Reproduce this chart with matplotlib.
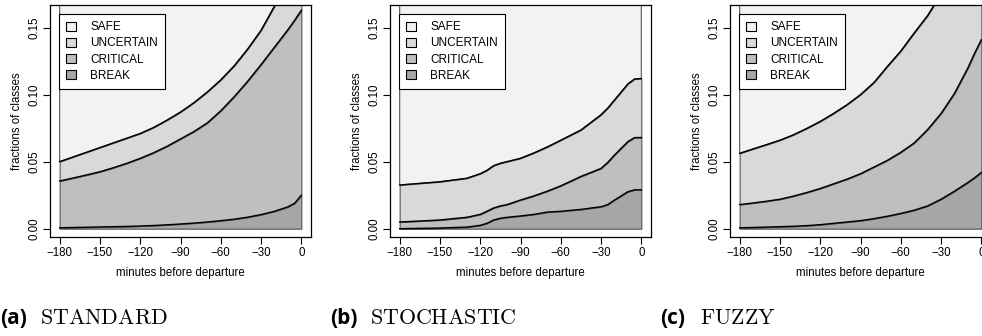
"""
Stacked class fractions before departure for three models (STANDARD, STOCHASTIC, FUZZY).
"""
import matplotlib
matplotlib.use("Agg")
import matplotlib.pyplot as plt
from matplotlib.patches import Patch

plt.rcParams['font.family'] = ['Liberation Sans', 'DejaVu Sans']
plt.rcParams['mathtext.fontset'] = 'cm'

# Class names and fill colours (bottom to top)
CLASSES = ['BREAK', 'CRITICAL', 'UNCERTAIN', 'SAFE']
COLORS = ['#a6a6a6', '#bfbfbf', '#d9d9d9', '#f2f2f2']

X_TICKS = [-180, -150, -120, -90, -60, -30, 0]
Y_TICKS = [0.0, 0.05, 0.10, 0.15]
Y_TICK_LABELS = ['0.00', '0.05', '0.10', '0.15']

# (a) STANDARD - cumulative upper boundary of each class
x_std = [-180, -170, -160, -150, -140, -130, -120, -110, -100, -90, -80, -70,
         -60, -50, -40, -30, -20, -10, -5, 0]
break_std = [0.0007, 0.0009, 0.0011, 0.0013, 0.0015, 0.0017, 0.002, 0.0024,
             0.0029, 0.0035, 0.0042, 0.005, 0.006, 0.0071, 0.0086, 0.0105,
             0.013, 0.0163, 0.019, 0.025]
critical_std = [0.0356, 0.0378, 0.0401, 0.0425, 0.0455, 0.0488, 0.0525, 0.0567,
                0.0615, 0.067, 0.0725, 0.079, 0.088, 0.0985, 0.110, 0.1225,
                0.1355, 0.1485, 0.1555, 0.163]
uncertain_std = [0.050, 0.0535, 0.057, 0.0605, 0.064, 0.0675, 0.071, 0.0755,
                 0.081, 0.087, 0.094, 0.102, 0.111, 0.1215, 0.134, 0.148,
                 0.166, 0.185, 0.198, 0.212]

# (b) STOCHASTIC
x_sto = [-180, -150, -130, -120, -115, -110, -105, -100, -90, -80, -70, -60,
         -45, -30, -25, -20, -15, -10, -5, 0]
break_sto = [0.0, 0.0005, 0.0012, 0.0025, 0.004, 0.0065, 0.0078, 0.0085,
             0.0095, 0.0107, 0.0124, 0.013, 0.0144, 0.0164, 0.018, 0.0214,
             0.0245, 0.0276, 0.029, 0.029]
critical_sto = [0.005, 0.0065, 0.0085, 0.0107, 0.013, 0.0155, 0.017, 0.018,
                0.0214, 0.0245, 0.028, 0.032, 0.039, 0.045, 0.0495, 0.055,
                0.060, 0.065, 0.068, 0.068]
uncertain_sto = [0.0326, 0.035, 0.0376, 0.041, 0.0435, 0.047, 0.0488, 0.050,
                 0.0525, 0.0565, 0.061, 0.066, 0.0736, 0.085, 0.090, 0.096,
                 0.102, 0.108, 0.1117, 0.112]

# (c) FUZZY
x_fuz = [-180, -170, -160, -150, -140, -130, -120, -110, -100, -90, -80, -70,
         -60, -50, -40, -30, -20, -10, -5, 0]
break_fuz = [0.0007, 0.0009, 0.0012, 0.0015, 0.0018, 0.0023, 0.003, 0.004,
             0.005, 0.006, 0.0075, 0.0093, 0.0114, 0.0138, 0.017, 0.022,
             0.028, 0.0345, 0.038, 0.042]
critical_fuz = [0.018, 0.0192, 0.0205, 0.022, 0.0243, 0.027, 0.030, 0.0335,
                0.037, 0.041, 0.046, 0.051, 0.057, 0.064, 0.074, 0.086,
                0.101, 0.12, 0.131, 0.141]
uncertain_fuz = [0.0562, 0.0595, 0.0627, 0.066, 0.070, 0.0748, 0.080, 0.086,
                 0.0925, 0.100, 0.109, 0.121, 0.1325, 0.146, 0.159, 0.175,
                 0.195, 0.22, 0.235, 0.25]

PANELS = [
    ('(a)', 'STANDARD', x_std, [break_std, critical_std, uncertain_std]),
    ('(b)', 'STOCHASTIC', x_sto, [break_sto, critical_sto, uncertain_sto]),
    ('(c)', 'FUZZY', x_fuz, [break_fuz, critical_fuz, uncertain_fuz]),
]

AX_LEFTS = [50, 390, 730]   # pixels
CAPTION_LEFTS = [0, 330, 660]
AX_W, AX_H, AX_BOTTOM = 261, 232, 99
FIG_W, FIG_H = 982, 336


def draw_panel(ax, x, bounds):
    lows = [[0.0] * len(x)] + bounds
    highs = bounds + [[1.0] * len(x)]
    for lo, hi, col in zip(lows, highs, COLORS):
        ax.fill_between(x, lo, hi, facecolor=col, edgecolor='#555555',
                        linewidth=0.8, zorder=1)
    for b in bounds:
        ax.plot(x, b, color='black', linewidth=1.0, zorder=2)

    ax.set_xlim(-187.2, 7.2)
    ax.set_ylim(-0.0062, 0.1669)
    ax.set_xticks(X_TICKS)
    ax.set_xticklabels(['\u2212%d' % -t if t < 0 else '%d' % t for t in X_TICKS])
    ax.set_yticks(Y_TICKS)
    ax.set_yticklabels(Y_TICK_LABELS, rotation=90, va='center')
    ax.tick_params(direction='out', length=5, width=0.8, labelsize=8.3,
                   pad=2, colors='black')
    for s in ax.spines.values():
        s.set_linewidth(0.9)
    ax.set_xlabel('minutes before departure', fontsize=8.3, labelpad=6)
    ax.set_ylabel('fractions of classes', fontsize=8.3, labelpad=4)

    handles = [Patch(facecolor=COLORS[i], edgecolor='black', linewidth=0.8,
                     label=CLASSES[i]) for i in [3, 2, 1, 0]]
    leg = ax.legend(handles=handles, loc='upper left',
                    bbox_to_anchor=(0.036, 0.96), fontsize=8.5,
                    fancybox=False, framealpha=1, edgecolor='black',
                    handlelength=0.8, handleheight=0.8, handletextpad=1.2,
                    labelspacing=0.35, borderpad=0.6, borderaxespad=0)
    leg.get_frame().set_linewidth(0.8)
    leg.set_zorder(5)


fig = plt.figure(figsize=(FIG_W / 100, FIG_H / 100), dpi=100)

for left, (tag, name, x, bounds) in zip(AX_LEFTS, PANELS):
    ax = fig.add_axes([left / FIG_W, AX_BOTTOM / FIG_H, AX_W / FIG_W, AX_H / FIG_H])
    draw_panel(ax, x, bounds)

# Sub-figure captions
for xpix, (tag, name, _, _) in zip(CAPTION_LEFTS, PANELS):
    fig.text(xpix / FIG_W, 1 - 318 / FIG_H, tag, fontsize=15, fontweight='bold',
             family=['Open Sans', 'DejaVu Sans'], va='center', ha='left')
    fig.text((xpix + 40) / FIG_W, 1 - 318 / FIG_H, r'$\mathrm{%s}$' % name,
             fontsize=15.8, va='center', ha='left')

fig.savefig('out.png', dpi=100)
